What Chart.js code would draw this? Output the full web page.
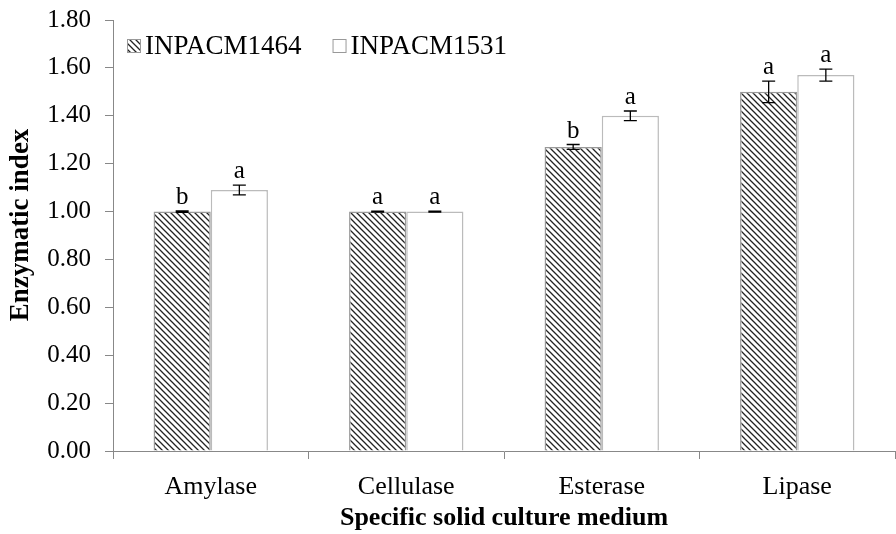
<!DOCTYPE html>
<html><head><meta charset="utf-8">
<script src="https://cdn.jsdelivr.net/npm/chart.js@4"></script>
<style>html,body{margin:0;padding:0;background:#fff}#wrap{width:896px;height:534px}</style>
</head><body><div id="wrap"><canvas id="c" width="896" height="534"></canvas></div>
<script>
const categories = ["Amylase", "Cellulase", "Esterase", "Lipase"];
const seriesNames = ["INPACM1464", "INPACM1531"];
const values1464 = [1.00, 1.00, 1.27, 1.50];
const values1531 = [1.09, 1.00, 1.40, 1.57];
const errors1464 = [0.003, 0.002, 0.01, 0.045];
const errors1531 = [0.02, 0.002, 0.02, 0.025];
const letters1464 = ["b", "a", "b", "a"];
const letters1531 = ["a", "a", "a", "a"];
const yTicks = [0, 0.2, 0.4, 0.6, 0.8, 1.0, 1.2, 1.4, 1.6, 1.8];
const yTitle = "Enzymatic index";
const xTitle = "Specific solid culture medium";

function makeHatch() {
  const s = 6;
  const p = document.createElement('canvas');
  p.width = s; p.height = s;
  const g = p.getContext('2d');
  g.fillStyle = '#fff'; g.fillRect(0, 0, s, s);
  g.strokeStyle = '#222'; g.lineWidth = 1.3;
  g.beginPath();
  g.moveTo(0, 0); g.lineTo(s, s);
  g.moveTo(-s, 0); g.lineTo(s, 2 * s);
  g.moveTo(0, -s); g.lineTo(2 * s, s);
  g.stroke();
  return document.getElementById('c').getContext('2d').createPattern(p, 'repeat');
}
const hatch = makeHatch();
const serif = "'Liberation Serif', 'Times New Roman', serif";

const errPlugin = {
  id: 'errs',
  afterDatasetsDraw(chart) {
    const ctx = chart.ctx;
    const y = chart.scales.y;
    const sets = [[errors1464, letters1464], [errors1531, letters1531]];
    ctx.save();
    chart.data.datasets.forEach((ds, di) => {
      const meta = chart.getDatasetMeta(di);
      meta.data.forEach((bar, i) => {
        const v = ds.data[i], e = sets[di][0][i];
        const yt = y.getPixelForValue(v + e), yb = y.getPixelForValue(v - e);
        const x = bar.x;
        ctx.strokeStyle = '#000'; ctx.lineWidth = 1.3;
        ctx.beginPath();
        ctx.moveTo(x, yt); ctx.lineTo(x, yb);
        ctx.moveTo(x - 6.5, yt); ctx.lineTo(x + 6.5, yt);
        ctx.moveTo(x - 6.5, yb); ctx.lineTo(x + 6.5, yb);
        ctx.stroke();
        ctx.fillStyle = '#000';
        ctx.font = "25px " + serif;
        ctx.textAlign = 'center'; ctx.textBaseline = 'alphabetic';
        ctx.fillText(sets[di][1][i], x, yt - 7);
      });
    });
    // legend
    const lx = 127, ly = 46;
    ctx.font = "27px " + serif;
    ctx.textBaseline = 'middle'; ctx.textAlign = 'left';
    let x = lx;
    chart.data.datasets.forEach((ds) => {
      ctx.fillStyle = ds.backgroundColor;
      ctx.fillRect(x, ly - 7, 14, 14);
      ctx.strokeStyle = '#999'; ctx.lineWidth = 1;
      ctx.strokeRect(x + 0.5, ly - 6.5, 13, 13);
      ctx.fillStyle = '#000';
      ctx.fillText(ds.label, x + 18, ly + 1);
      x += 18 + ctx.measureText(ds.label).width + 31;
    });
    // y title
    ctx.save();
    ctx.translate(21, 225);
    ctx.rotate(-Math.PI / 2);
    ctx.font = "bold 27px " + serif;
    ctx.textAlign = 'center'; ctx.textBaseline = 'middle';
    ctx.fillStyle = '#000';
    ctx.fillText(yTitle, 0, 0);
    ctx.restore();
    ctx.restore();
  }
};

new Chart(document.getElementById('c'), {
  type: 'bar',
  data: {
    labels: categories,
    datasets: [
      { label: seriesNames[0], data: values1464, backgroundColor: hatch, borderColor: '#999', borderWidth: 1.5 },
      { label: seriesNames[1], data: values1531, backgroundColor: '#fff', borderColor: '#bbb', borderWidth: 1.5 }
    ]
  },
  options: {
    responsive: false,
    animation: false,
    layout: { padding: { top: 20, right: 1, left: 0, bottom: 0 } },
    datasets: { bar: { categoryPercentage: 0.585, barPercentage: 1.0 } },
    plugins: { legend: { display: false }, tooltip: { enabled: false } },
    scales: {
      x: {
        grid: { display: true, drawOnChartArea: false, drawTicks: true, tickLength: 8, color: '#888', offset: true },
        border: { color: '#888', width: 1 },
        ticks: { color: '#000', font: { family: serif, size: 26 }, padding: 13 },
        title: { display: true, text: xTitle, color: '#000', font: { family: serif, size: 26, weight: 'bold' }, padding: { top: 0, bottom: 0 } },
        afterFit(s) { s.height = 83; s.paddingLeft = 0; s.paddingRight = 0; }
      },
      y: {
        min: 0, max: 1.8,
        afterBuildTicks(s) { s.ticks = yTicks.map(v => ({ value: v })); },
        grid: { display: true, drawOnChartArea: false, drawTicks: true, tickLength: 8, color: '#888' },
        border: { color: '#888', width: 1 },
        ticks: { color: '#000', font: { family: serif, size: 25 }, padding: 14, callback: v => Number(v).toFixed(2) },
        title: { display: false },
        afterFit(s) { s.width = 113; s.paddingTop = 0; s.paddingBottom = 0; }
      }
    }
  },
  plugins: [errPlugin]
});
</script>
</body></html>
